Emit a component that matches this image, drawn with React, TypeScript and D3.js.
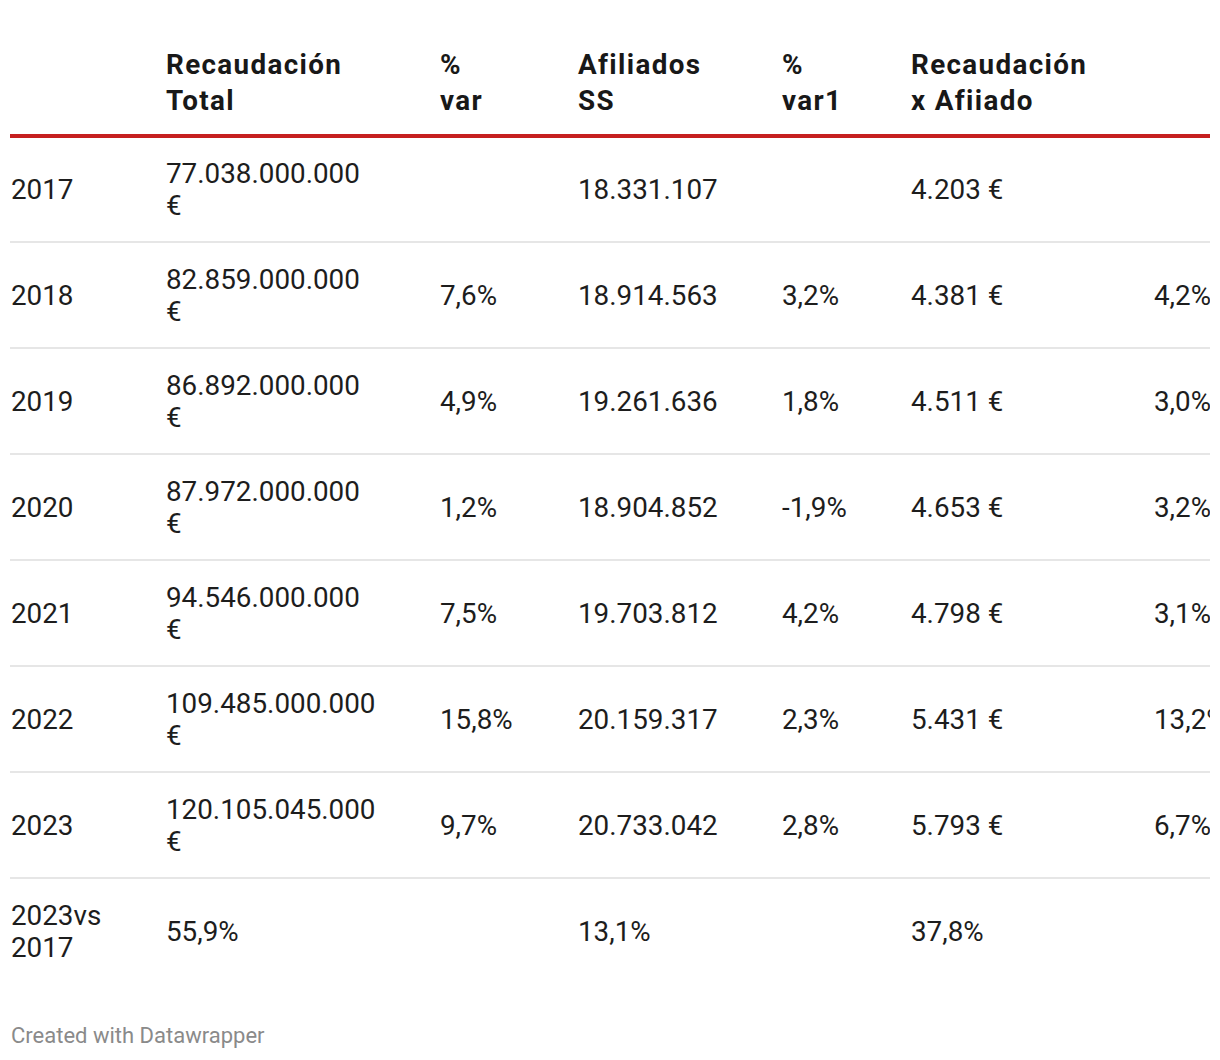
import React from "react";
import * as d3 from "d3";

const headers = ["", "Recaudación Total", "% var", "Afiliados SS", "% var1", "Recaudación x Afiiado", ""];
const years = ["2017", "2018", "2019", "2020", "2021", "2022", "2023", "2023vs 2017"];
const recaudacionTotal = [
  "77.038.000.000 €", "82.859.000.000 €", "86.892.000.000 €", "87.972.000.000 €",
  "94.546.000.000 €", "109.485.000.000 €", "120.105.045.000 €", "55,9%",
];
const varRecaudacion = ["", "7,6%", "4,9%", "1,2%", "7,5%", "15,8%", "9,7%", ""];
const afiliadosSS = ["18.331.107", "18.914.563", "19.261.636", "18.904.852", "19.703.812", "20.159.317", "20.733.042", "13,1%"];
const varAfiliados = ["", "3,2%", "1,8%", "-1,9%", "4,2%", "2,3%", "2,8%", ""];
const recaudacionAfiliado = ["4.203 €", "4.381 €", "4.511 €", "4.653 €", "4.798 €", "5.431 €", "5.793 €", "37,8%"];
const varAfiliado = ["", "4,2%", "3,0%", "3,2%", "3,1%", "13,2%", "6,7%", ""];

const columns = [years, recaudacionTotal, varRecaudacion, afiliadosSS, varAfiliados, recaudacionAfiliado, varAfiliado];
const wrapColumn = [true, true, false, false, false, false, false];
const colKeys = ["c0", "c1", "c2", "c3", "c4", "c5", "c6"];

const W = 1220;
const H = 1060;
const LEFT = 10;
const RIGHT = 1210;
const FONT = "Roboto, 'Noto Sans', sans-serif";
const FS = 27.8;

export default function App() {
  const x = d3.scaleOrdinal<string, number>().domain(colKeys).range([11, 166, 440, 578, 782, 911, 1154]);
  const y = d3.scaleBand<number>().domain(d3.range(years.length)).range([136, 136 + 106 * years.length]).padding(0);
  const lineH = 32;

  return (
    <svg width={W} height={H} style={{ position: "absolute", left: 0, top: 0, display: "block", background: "#fff" }}>
      <defs>
        <clipPath id="tableClip">
          <rect x={0} y={0} width={RIGHT} height={H} />
        </clipPath>
      </defs>
      <rect x={0} y={0} width={W} height={H} fill="#fff" />
      <g clipPath="url(#tableClip)">
        {headers.map((h, i) => {
          const words = h ? h.split(" ") : [];
          const lines = words.length > 1 ? [words[0], words.slice(1).join(" ")] : words;
          return (
            <text key={"h" + i} x={x(colKeys[i])} y={74} fontFamily={FONT} fontWeight={700} fontSize={FS}
              letterSpacing={1.35} fill="#181818">
              {lines.map((l, j) => (
                <tspan key={j} x={x(colKeys[i])} y={74 + j * 36}>{l}</tspan>
              ))}
            </text>
          );
        })}
        <line x1={LEFT} x2={RIGHT} y1={136} y2={136} stroke="#c6201f" strokeWidth={4} />
        {years.map((_, r) => {
          const top = y(r)!;
          const bw = y.bandwidth();
          const cy = top + bw / 2;
          return (
            <g key={"r" + r}>
              {r < years.length - 1 && (
                <line x1={LEFT} x2={RIGHT} y1={top + bw} y2={top + bw} stroke="#e6e6e6" strokeWidth={2} />
              )}
              {columns.map((col, c) => {
                const v = col[r];
                if (!v) return null;
                const lines = wrapColumn[c] ? v.split(" ") : [v];
                const n = lines.length;
                const base = cy + 10 - ((n - 1) * lineH) / 2;
                return (
                  <text key={c} fontFamily={FONT} fontSize={FS} fill="#1d1d1d">
                    {lines.map((l, j) => (
                      <tspan key={j} x={x(colKeys[c])} y={base + j * lineH}>{l}</tspan>
                    ))}
                  </text>
                );
              })}
            </g>
          );
        })}
      </g>
      <text x={11} y={1043} fontFamily={FONT} fontSize={22} fill="#8a8a8a">Created with Datawrapper</text>
    </svg>
  );
}
